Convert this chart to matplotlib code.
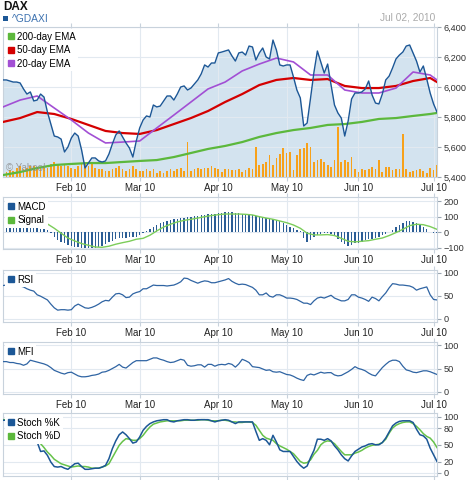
import matplotlib
matplotlib.use('Agg')
import matplotlib.pyplot as plt
import matplotlib.transforms as mtransforms
from matplotlib.lines import Line2D
from matplotlib.patches import Rectangle
from matplotlib.ticker import FuncFormatter
import numpy as np
import pandas as pd

plt.rcParams['font.family'] = ['Liberation Sans', 'DejaVu Sans']

# trading days, Frankfurt closed on Good Friday / Easter Monday
days = pd.bdate_range('2010-01-04', '2010-07-02')
days = days[~days.isin(pd.to_datetime(['2010-04-02', '2010-04-05']))]
x = np.arange(len(days))

close = [6047, 6047, 6040, 6033, 6033, 6027, 5987, 5953, 5967, 5907,
         5913, 5953, 5933, 5833, 5753, 5673, 5667, 5653, 5567, 5600,
         5660, 5693, 5673, 5580, 5460, 5493, 5527, 5527, 5507, 5500,
         5507, 5553, 5620, 5680, 5707, 5667, 5627, 5593, 5533, 5640,
         5727, 5780, 5807, 5800, 5880, 5867, 5873, 5907, 5940, 5940,
         5913, 5953, 6000, 6007, 5980, 5993, 6020, 6047, 6087, 6147,
         6133, 6160, 6160, 6227, 6233, 6240, 6247, 6207, 6173, 6227,
         6233, 6213, 6273, 6267, 6180, 6227, 6260, 6200, 6187, 6313,
         6247, 6147, 6140, 6147, 6147, 6067, 5980, 5927, 5740, 5760,
         5927, 6100, 6240, 6167, 6093, 6153, 6013, 5880, 5827, 5793,
         5673, 5773, 5920, 5960, 5960, 5967, 5987, 6040, 5947, 5893,
         5887, 5953, 6047, 6073, 6127, 6187, 6213, 6233, 6273, 6280,
         6227, 6173, 6100, 6140, 6053, 5960, 5887, 5833]

# volume, millions (no scale shown on the chart)
volume = [20, 20, 28, 24, 36, 44, 32, 36, 44, 44,
          32, 36, 44, 36, 52, 60, 52, 44, 52, 44,
          36, 32, 44, 52, 56, 44, 52, 36, 32, 32,
          24, 24, 32, 36, 44, 32, 24, 32, 44, 32,
          24, 24, 32, 24, 32, 16, 24, 16, 24, 32,
          24, 32, 36, 24, 140, 24, 32, 36, 32, 36,
          36, 44, 36, 32, 20, 32, 32, 28, 28, 32,
          20, 28, 36, 32, 120, 48, 52, 60, 88, 48,
          76, 92, 116, 96, 100, 28, 88, 112, 116, 136,
          120, 60, 68, 72, 60, 48, 40, 68, 200, 60,
          68, 60, 80, 32, 20, 32, 28, 32, 40, 32,
          68, 20, 40, 40, 28, 32, 32, 172, 32, 20,
          24, 28, 32, 24, 16, 36, 28, 48]

# moving averages, read once a week
ema20 = [5867, 5913, 5940, 5860, 5780, 5693, 5627, 5633, 5640, 5727,
         5813, 5900, 5987, 6033, 6107, 6153, 6193, 6167, 6080, 6080,
         5980, 5960, 5960, 5993, 6100, 6080, 6047]
ema50 = [5767, 5793, 5833, 5820, 5787, 5747, 5707, 5693, 5687, 5713,
         5753, 5793, 5840, 5900, 5953, 6013, 6047, 6060, 6047, 6053,
         6007, 5993, 5993, 6007, 6040, 6060, 6033]
ema200 = [5413, 5433, 5460, 5480, 5487, 5493, 5493, 5500, 5507, 5513,
          5533, 5560, 5587, 5607, 5633, 5667, 5693, 5713, 5727, 5747,
          5753, 5767, 5787, 5793, 5807, 5820, 5827]

macd = [60, 26, 26, 25, 25, 26, 26, 25, 25, 26,
        25, 24, 22, 18, -5, -28, -49, -60, -71, -82,
        -88, -92, -97, -101, -103, -103, -103, -101, -97, -86,
        -75, -65, -54, -45, -39, -37, -34, -32, -32, -28,
        -19, -6, 11, 24, 37, 49, 60, 67, 73, 80,
        84, 88, 92, 95, 97, 101, 103, 108, 112, 114,
        116, 118, 120, 123, 125, 129, 131, 129, 125, 123,
        120, 116, 112, 110, 108, 103, 99, 92, 88, 84,
        77, 71, 62, 49, 37, 26, 17, 6, -39, -60,
        -49, -30, -17, -11, -6, -6, -11, -21, -43, -60,
        -75, -88, -82, -71, -67, -60, -49, -45, -41, -34,
        -28, -19, -9, 4, 17, 32, 49, 62, 71, 75,
        69, 58, 47, 37, 22, 4, -2, -6]

# signal line, every second day from mid January
signal = [54, 26, -6, -37, -56, -73, -84, -95, -97, -90,
          -77, -67, -58, -45, -39, -19, 9, 34, 52, 67,
          77, 84, 92, 101, 108, 114, 118, 118, 118, 116,
          112, 101, 92, 84, 73, 62, 47, 26, -6, -17,
          -17, -15, -21, -39, -58, -62, -58, -54, -45, -37,
          -21, -2, 19, 43, 52, 49, 37, 19]

rsi = [72, 73, 73, 72, 72, 71, 69, 65, 62, 60,
       52, 49, 45, 41, 32, 24, 19, 20, 20, 19,
       20, 28, 32, 28, 24, 23, 25, 28, 32, 37,
       40, 39, 47, 54, 55, 52, 46, 47, 54, 57,
       59, 65, 65, 69, 73, 72, 72, 72, 71, 72,
       73, 76, 80, 88, 87, 83, 80, 77, 80, 82,
       81, 78, 78, 80, 82, 84, 87, 81, 77, 74,
       75, 74, 71, 68, 62, 52, 52, 56, 49, 47,
       52, 52, 49, 45, 45, 44, 42, 38, 34, 34,
       31, 39, 45, 47, 45, 48, 51, 45, 42, 39,
       39, 42, 52, 52, 47, 45, 42, 38, 47, 44,
       39, 48, 56, 67, 76, 75, 73, 73, 72, 71,
       68, 62, 65, 67, 69, 52, 42, 41]

mfi = [65, 65, 63, 63, 61, 60, 57, 60, 68, 66,
       64, 62, 60, 57, 52, 46, 43, 40, 38, 41,
       42, 38, 34, 32, 32, 33, 35, 36, 38, 42,
       43, 46, 50, 54, 59, 53, 51, 57, 63, 67,
       67, 67, 67, 70, 73, 73, 70, 68, 65, 63,
       64, 67, 70, 68, 57, 55, 56, 58, 58, 53,
       59, 59, 55, 58, 59, 58, 61, 59, 53, 60,
       70, 67, 63, 54, 53, 52, 49, 46, 47, 43,
       42, 43, 40, 37, 36, 33, 29, 26, 24, 35,
       38, 36, 39, 42, 40, 41, 41, 36, 34, 35,
       39, 43, 48, 54, 50, 48, 45, 40, 36, 34,
       43, 52, 59, 65, 68, 68, 65, 55, 47, 45,
       42, 41, 43, 45, 45, 43, 40, 37]

stoch_k = [94, 94, 94, 93, 92, 92, 88, 80, 72, 64,
           55, 38, 39, 31, 19, 11, 10, 11, 8, 6,
           11, 16, 17, 11, 6, 6, 7, 8, 8, 10,
           13, 25, 43, 57, 68, 73, 68, 61, 53, 55,
           64, 76, 83, 88, 91, 93, 94, 95, 95, 92,
           91, 93, 94, 95, 95, 94, 94, 95, 95, 95,
           95, 93, 91, 93, 94, 95, 94, 91, 88, 91,
           91, 91, 91, 91, 74, 58, 61, 58, 50, 67,
           55, 41, 38, 38, 38, 29, 20, 13, 8, 12,
           27, 40, 60, 60, 58, 61, 57, 48, 41, 32,
           25, 21, 30, 38, 42, 46, 48, 51, 52, 50,
           50, 54, 62, 73, 84, 89, 92, 93, 93, 93,
           90, 78, 68, 66, 60, 44, 32, 20]
stoch_d = [95, 95, 95, 94, 93, 92, 90, 86, 80, 72,
           60, 52, 45, 37, 31, 24, 20, 16, 14, 12,
           10, 11, 12, 11, 11, 10, 8, 8, 8, 10,
           12, 16, 27, 38, 49, 56, 61, 60, 58, 58,
           61, 67, 75, 82, 87, 89, 91, 92, 93, 93,
           93, 93, 93, 94, 94, 94, 94, 94, 95, 95,
           94, 93, 93, 93, 94, 94, 93, 91, 91, 90,
           90, 91, 91, 90, 85, 76, 67, 62, 60, 58,
           52, 48, 45, 42, 38, 34, 27, 20, 17, 18,
           23, 33, 40, 50, 55, 57, 56, 52, 45, 38,
           32, 32, 32, 35, 37, 40, 44, 47, 49, 50,
           51, 54, 60, 71, 80, 85, 88, 90, 91, 91,
           88, 83, 77, 70, 65, 62, 55, 45]

ema_x = list(x[::5]) + [x[-1]]
sig_x = x[13::2]

# month ticks: first trading day of each month after January
tick_pos = [i for i in range(1, len(days)) if days[i].month != days[i - 1].month]
tick_lab = [days[i].strftime('%b %y') for i in tick_pos]

W, H = 470, 480
fig = plt.figure(figsize=(W / 100, H / 100), dpi=100)


def panel(top, bottom):
    return fig.add_axes([3 / W, 1 - bottom / H, 434 / W, (bottom - top) / H])


def style(ax, yticks, ylim, labels=True):
    ax.set_xlim(0, len(days) - 1)
    ax.set_ylim(*ylim)
    for s in ax.spines.values():
        s.set_color('#c8d2dc')
        s.set_linewidth(0.8)
    ax.yaxis.tick_right()
    ax.set_yticks(yticks)
    ax.tick_params(axis='y', direction='out', length=3, width=0.8, color='#9aa6b2',
                   labelsize=6.6, labelcolor='#333333', pad=1.5)
    ax.set_xticks(tick_pos)
    ax.set_xticklabels(tick_lab if labels else [])
    ax.tick_params(axis='x', direction='out', length=3, width=0.8, color='#c8d2dc',
                   labelsize=7, labelcolor='#222222', pad=1.5, top=True)
    ax.set_axisbelow('line')
    ax.grid(True, color='#e2e9f0', lw=0.8)


def legend(ax, items):
    h = [Line2D([], [], ls='none', marker='s', ms=5, color=c, label=l) for l, c in items]
    lg = ax.legend(handles=h, loc='upper left', fontsize=7, frameon=True, fancybox=False,
                   handlelength=0.6, handletextpad=0.35, borderpad=0.25,
                   labelspacing=0.35, borderaxespad=0.25)
    lg.get_frame().set_facecolor('white')
    lg.get_frame().set_edgecolor('none')
    lg.get_frame().set_alpha(1)
    lg.set_zorder(10)


# main price panel
ax = panel(27, 177)
ax.fill_between(x, close, 5400, color='#d3e3ef', lw=0, zorder=1)
vol_tr = mtransforms.blended_transform_factory(
    ax.transData, mtransforms.Affine2D().scale(1, 1 / 600) + ax.transAxes)
ax.bar(x, volume, width=0.5, color='#f7a11a', transform=vol_tr, zorder=1.6)
ax.plot(ema_x, ema200, color='#5cb83c', lw=1.6, zorder=3)
ax.plot(ema_x, ema50, color='#d40000', lw=1.6, zorder=3)
ax.plot(ema_x, ema20, color='#a24fd4', lw=1.2, zorder=3)
ax.plot(x, close, color='#1c5796', lw=1.0, zorder=4)
style(ax, [5400, 5600, 5800, 6000, 6200, 6400], (5400, 6400))
ax.yaxis.set_major_formatter(FuncFormatter(lambda v, p: f'{v:,.0f}'))
legend(ax, [('200-day EMA', '#5cb83c'), ('50-day EMA', '#d40000'), ('20-day EMA', '#a24fd4')])
ax.text(0.008, 0.06, '\u00a9 Yahoo!', transform=ax.transAxes, fontsize=7,
        color='#8a8a8a', alpha=0.8, va='center', zorder=5)

# MACD
ax2 = panel(197, 249)
ax2.bar(x, macd, width=0.4, color='#2b5d95', zorder=2)
ax2.plot(sig_x, signal, color='#7ccd5a', lw=1.0, zorder=3)
style(ax2, [-100, 0, 100, 200], (-108, 228))
legend(ax2, [('MACD', '#1c5796'), ('Signal', '#5cb83c')])

# RSI
ax3 = panel(270, 322)
ax3.plot(x, rsi, color='#2f64a3', lw=0.9, zorder=3)
style(ax3, [0, 50, 100], (-6.5, 105.4))
legend(ax3, [('RSI', '#1c5796')])

# MFI
ax4 = panel(342, 394)
ax4.plot(x, mfi, color='#2f64a3', lw=0.9, zorder=3)
style(ax4, [0, 50, 100], (-5.4, 107.6))
legend(ax4, [('MFI', '#1c5796')])

# Stochastic
ax5 = panel(413, 476)
ax5.plot(x, stoch_d, color='#66c24a', lw=1.1, zorder=3)
ax5.plot(x, stoch_k, color='#1c5796', lw=1.1, zorder=4)
style(ax5, [0, 20, 50, 80, 100], (-6, 107), labels=False)
legend(ax5, [('Stoch %K', '#1c5796'), ('Stoch %D', '#5cb83c')])

# header
fig.text(3 / W, 1 - 6.5 / H, 'DAX', fontsize=8.5, fontweight='bold', color='#111111', va='center')
fig.patches.append(Rectangle((3 / W, 1 - 21 / H), 5 / W, 5 / H, transform=fig.transFigure,
                             facecolor='#1c5796', edgecolor='none'))
fig.text(12 / W, 1 - 18.5 / H, '^GDAXI', fontsize=7.4, color='#3d72b0', va='center')
fig.text(435 / W, 1 - 18 / H, 'Jul 02, 2010', fontsize=7.3, color='#aaaaaa', va='center', ha='right')

fig.savefig('out.png', dpi=100)
